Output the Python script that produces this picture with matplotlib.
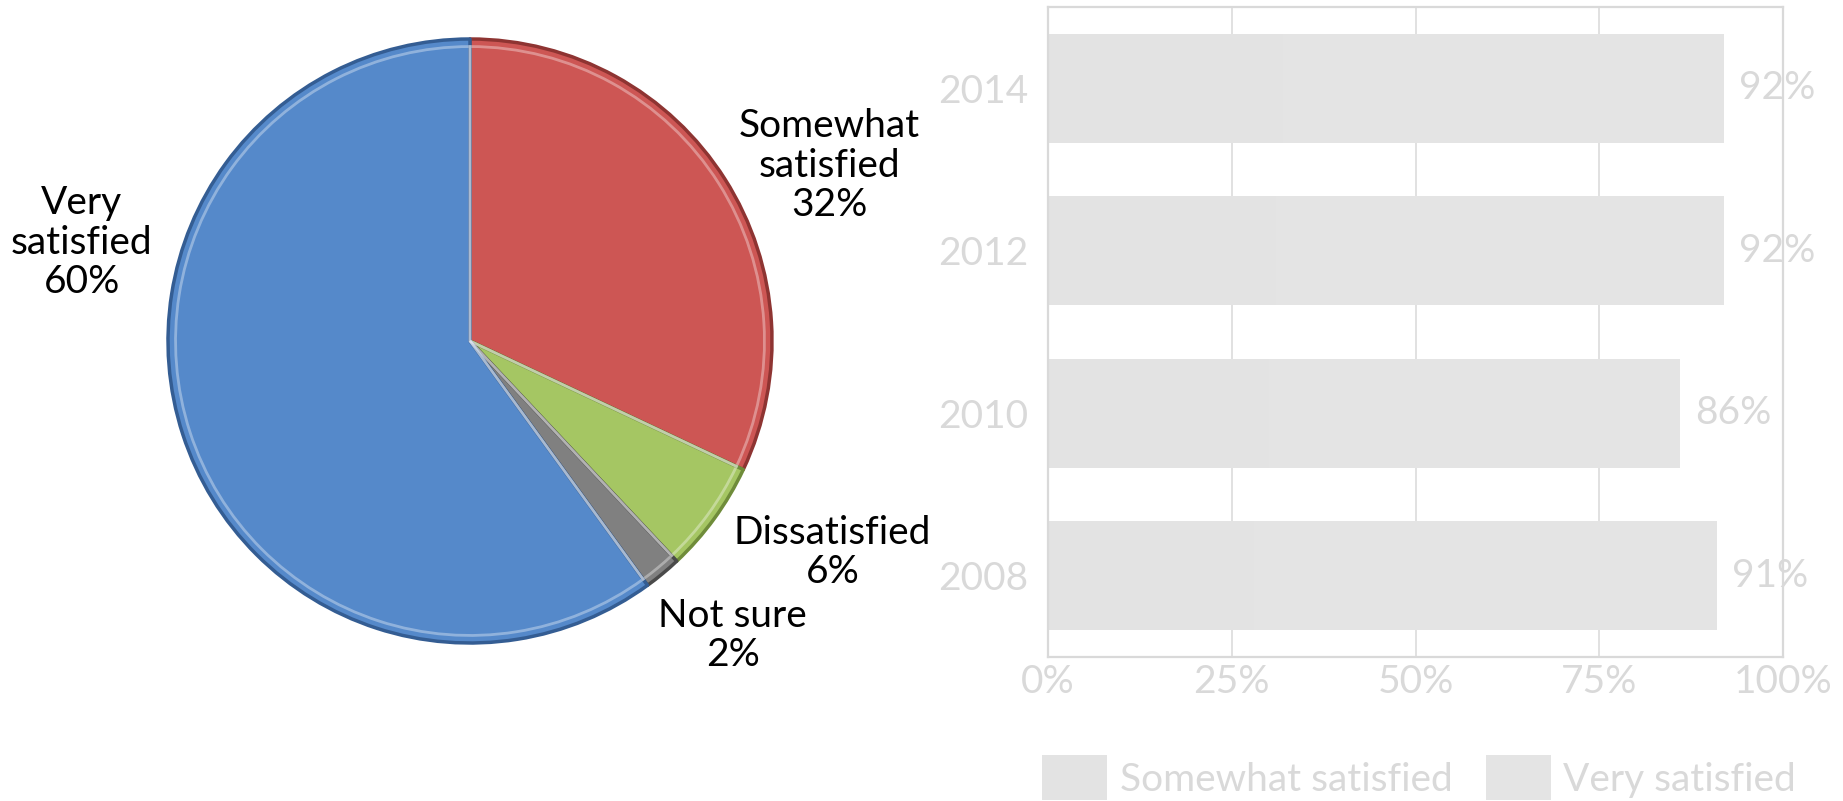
import matplotlib
matplotlib.use("Agg")
import matplotlib.pyplot as plt
from matplotlib.patches import Patch
import numpy as np

plt.rcParams['font.family'] = ['Lato', 'DejaVu Sans']

# pie: satisfaction in 2014
pie_labels = ['Somewhat\nsatisfied', 'Dissatisfied', 'Not sure', 'Very\nsatisfied']
pie_values = [32, 6, 2, 60]
pie_colors = ['#CD5654', '#A5C663', '#808080', '#5589CA']
pie_edges = ['#8E3432', '#6F8C3A', '#4A4A4A', '#345D93']
pie_label_pos = [(1.19, 0.58), (1.20, -0.70), (0.87, -0.975), (-1.285, 0.325)]

# bars: satisfied over the years
years = ['2008', '2010', '2012', '2014']
somewhat = [28, 30, 31, 32]
very = [63, 56, 61, 60]
totals = [91, 86, 92, 92]

FS = 28
W, H = 1843, 801
fig = plt.figure(figsize=(W / 100, H / 100), dpi=100)

# ---- pie ----
cx, cy, r = 470, 341, 302
axp = fig.add_axes([(cx - r) / W, (H - cy - r) / H, 2 * r / W, 2 * r / H])
wedges, _ = axp.pie(pie_values, colors=pie_colors, startangle=90, counterclock=False,
                    radius=1.0, wedgeprops=dict(linewidth=2.5, joinstyle='round'))
for w, ec in zip(wedges, pie_edges):
    w.set_edgecolor(ec)
# soft highlight just inside each wedge for a bevelled look
hl, _ = axp.pie(pie_values, startangle=90, counterclock=False,
                radius=0.975, wedgeprops=dict(linewidth=2, fill=False))
for w in hl:
    w.set_edgecolor(matplotlib.colors.to_rgba('white', 0.35))
for lab, v, (x, y) in zip(pie_labels, pie_values, pie_label_pos):
    axp.text(x, y, f'{lab}\n{v}%', ha='center', va='center', fontsize=FS,
             color='black', linespacing=1.12)
axp.set_xlim(-1, 1)
axp.set_ylim(-1, 1)
axp.set_aspect('equal')
axp.axis('off')

# ---- stacked bars ----
gray = '#D9D9D9'
ax = fig.add_axes([1048 / W, (H - 657) / H, 735 / W, 650 / H])
y = np.arange(len(years))
ax.barh(y, somewhat, height=0.67, color='#E3E3E3', label='Somewhat satisfied', zorder=2)
ax.barh(y, very, left=somewhat, height=0.67, color='#E4E4E4', label='Very satisfied', zorder=2)
for yi, t in zip(y, totals):
    ax.annotate(f'{t}%', (t, yi), xytext=(11, 0), textcoords='offset points',
                ha='left', va='center', fontsize=FS, color=gray, zorder=3)
ax.set_xlim(0, 100)
ax.set_ylim(-0.5, len(years) - 0.5)
ax.set_xticks([0, 25, 50, 75, 100])
ax.set_xticklabels(['0%', '25%', '50%', '75%', '100%'])
ax.set_yticks(y)
ax.set_yticklabels(years)
ax.tick_params(length=0, labelsize=FS, labelcolor=gray)
ax.tick_params(axis='x', pad=5)
ax.tick_params(axis='y', pad=14)
ax.grid(axis='x', color=gray, linewidth=1.1, zorder=0)
for s in ax.spines.values():
    s.set_color(gray)
    s.set_linewidth(1.6)

handles = [Patch(facecolor='#E3E3E3', label='Somewhat satisfied'),
           Patch(facecolor='#E4E4E4', label='Very satisfied')]
ax.legend(handles=handles, loc='upper left', bbox_to_anchor=(-0.008, -0.151), ncol=2,
          frameon=False, fontsize=FS, labelcolor=gray, borderaxespad=0, borderpad=0,
          handlelength=1.67, handleheight=1.4, handletextpad=0.33, columnspacing=0.85)

fig.savefig('out.png', dpi=100)
